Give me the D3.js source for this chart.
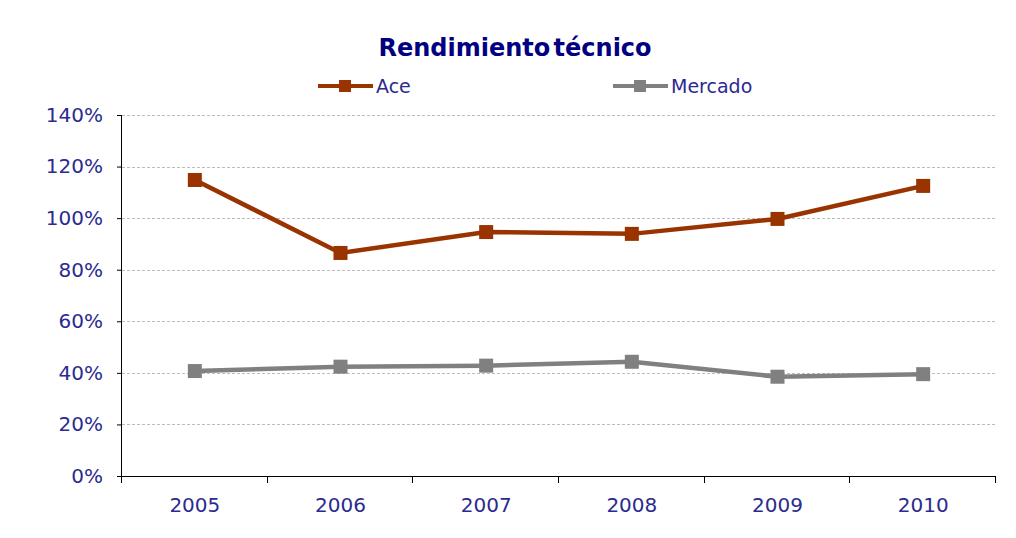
<!DOCTYPE html>
<html>
<head>
<meta charset="utf-8">
<script src="https://cdn.jsdelivr.net/npm/d3@7/dist/d3.min.js"></script>
<style>
  body { margin: 0; padding: 0; background: #fff; }
  text { font-family: "DejaVu Sans", Verdana, sans-serif; }
</style>
</head>
<body>
<div id="chart"></div>
<script>
var years = ["2005", "2006", "2007", "2008", "2009", "2010"];
var ace = [114.8, 86.5, 94.6, 93.9, 99.7, 112.5];
var mercado = [40.7, 42.4, 42.8, 44.3, 38.5, 39.5];
var yTicks = [0, 20, 40, 60, 80, 100, 120, 140];

var series = [
  { name: "Ace", values: ace, color: "#993300", lx: 318 },
  { name: "Mercado", values: mercado, color: "#808080", lx: 613 }
];

var width = 1016, height = 538;
var plotL = 122, plotR = 996, plotT = 115, plotB = 476;
var labelColor = "#2b2b8f";
var fontFam = "'DejaVu Sans', Verdana, sans-serif";

var svg = d3.select("#chart").append("svg")
  .attr("width", width)
  .attr("height", height);

var x = d3.scaleBand().domain(years).range([plotL, plotR]);
var y = d3.scaleLinear().domain([0, 140]).range([plotB, plotT]);

// grid
svg.append("g")
  .selectAll("line")
  .data(yTicks.filter(function(d) { return d > 0; }))
  .enter().append("line")
  .attr("x1", plotL).attr("x2", plotR)
  .attr("y1", function(d) { return Math.round(y(d)) + 0.5; })
  .attr("y2", function(d) { return Math.round(y(d)) + 0.5; })
  .attr("stroke", "#bdbdbd")
  .attr("stroke-width", 1)
  .attr("stroke-dasharray", "3 2");

// y axis
var yAxis = svg.append("g")
  .attr("transform", "translate(" + plotL + ",0)")
  .call(d3.axisLeft(y).tickValues(yTicks).tickSize(5).tickPadding(14)
    .tickFormat(function(d) { return d + "%"; }));
yAxis.select(".domain").attr("stroke", "#000").attr("d", "M-0.5," + plotT + "V" + (plotB + 7));
yAxis.selectAll(".tick line").attr("stroke", "#000");
yAxis.selectAll("text").attr("fill", labelColor).style("font-size", "20px")
  .style("font-family", fontFam);

// x axis
var xAxis = svg.append("g")
  .attr("transform", "translate(0," + plotB + ")")
  .call(d3.axisBottom(x).tickSize(0).tickPadding(22));
xAxis.select(".domain").attr("stroke", "#000").attr("d", "M" + plotL + ",0.5H" + plotR);
xAxis.selectAll("text").attr("fill", labelColor).style("font-size", "20px")
  .style("font-family", fontFam);
var bounds = years.map(function(d) { return x(d); }).concat([plotR]);
svg.append("g").selectAll("line")
  .data(bounds).enter().append("line")
  .attr("x1", function(d) { return Math.round(d) - 0.5; })
  .attr("x2", function(d) { return Math.round(d) - 0.5; })
  .attr("y1", plotB).attr("y2", plotB + 7)
  .attr("stroke", "#000");

// lines
var line = d3.line()
  .x(function(d, i) { return x(years[i]) + x.bandwidth() / 2; })
  .y(function(d) { return y(d); });

series.forEach(function(s) {
  svg.append("path")
    .datum(s.values)
    .attr("d", line)
    .attr("fill", "none")
    .attr("stroke", s.color)
    .attr("stroke-width", 4.5);
  svg.append("g").selectAll("rect")
    .data(s.values).enter().append("rect")
    .attr("x", function(d, i) { return x(years[i]) + x.bandwidth() / 2 - 7; })
    .attr("y", function(d) { return y(d) - 7; })
    .attr("width", 14).attr("height", 14)
    .attr("fill", s.color);

  // legend
  var lg = svg.append("g").attr("transform", "translate(" + s.lx + ",86)");
  lg.append("line").attr("x1", 0).attr("x2", 55).attr("y1", 0).attr("y2", 0)
    .attr("stroke", s.color).attr("stroke-width", 4);
  lg.append("rect").attr("x", 21).attr("y", -6).attr("width", 12).attr("height", 12)
    .attr("fill", s.color);
  lg.append("text").attr("x", 58).attr("y", 7)
    .attr("fill", labelColor).style("font-size", "19px").text(s.name);
});

// title
svg.append("text")
  .attr("x", 515).attr("y", 56)
  .attr("text-anchor", "middle")
  .attr("fill", "#000080")
  .style("font-size", "24px").style("font-weight", "bold")
  .style("word-spacing", "-5px")
  .text("Rendimiento técnico");
</script>
</body>
</html>
